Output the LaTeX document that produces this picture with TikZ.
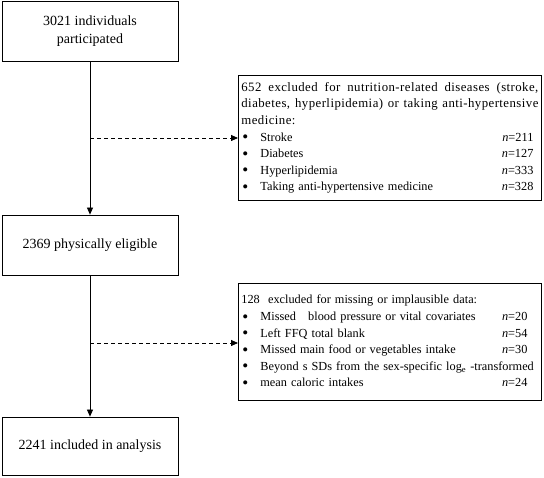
\documentclass[tikz,border=0pt]{standalone}
\usepackage{fontspec}
\setmainfont{Liberation Serif}
\usetikzlibrary{arrows.meta}
\newcommand\fline[1]{\hbox to \linewidth{\fontsize{12.8}{16.6}\selectfont\addfontfeature{LetterSpace=3.5}\spaceskip=0.25em plus 2em\relax #1}}
\newcommand\plainline[1]{\hbox to \linewidth{#1\hfil}}
\newcommand\bitem[1]{\hbox to \linewidth{\makebox[19pt][l]{\hspace{1pt}\raisebox{-1.6pt}{\fontsize{17}{16}\selectfont\textbullet}}#1}}
\begin{document}
\begin{tikzpicture}[x=1pt,y=-1pt,
  mainbox/.style={draw, line width=0.8pt, minimum width=176pt, align=center, font=\fontsize{14}{17.5}\selectfont, inner sep=0pt},
  sidebox/.style={draw, line width=0.8pt, anchor=north west, text width=297pt, inner xsep=3pt, inner ysep=0pt, align=left, font=\fontsize{12.3}{16.6}\selectfont},
  flow/.style={line width=0.8pt, -{Triangle[length=7pt,width=6pt]}},
  side/.style={line width=0.8pt, dashed, dash pattern=on 4pt off 3pt, -{Triangle[length=7pt,width=6pt]}}]
\useasboundingbox (0,0) rectangle (544,478);
\node[mainbox, minimum height=60pt] (a) at (90,31) {3021 individuals\\participated};
\node[mainbox, minimum height=60pt] (b) at (90,245) {2369 physically eligible};
\node[mainbox, minimum height=58pt] (c) at (90,446) {2241 included in analysis};
\node[sidebox, minimum height=125pt] (e1) at (238,75) {%
\fline{652 excluded for nutrition-related diseases (stroke,}
\fline{diabetes, hyperlipidemia) or taking anti-hypertensive}
\fline{medicine:\hfil}
\bitem{Stroke\hfill\textit{n}=211\hspace{5pt}}
\bitem{Diabetes\hfill\textit{n}=127\hspace{5pt}}
\bitem{Hyperlipidemia\hfill\textit{n}=333\hspace{5pt}}
\bitem{Taking anti-hypertensive medicine\hfill\textit{n}=328\hspace{5pt}}};
\node[sidebox, minimum height=117pt] (e2) at (238,283) {%
\plainline{128\ \ excluded for missing or implausible data:}
\bitem{Missed\ \ \ blood pressure or vital covariates\hfill\textit{n}=20\hspace{11pt}}
\bitem{Left FFQ total blank\hfill\textit{n}=54\hspace{11pt}}
\bitem{Missed main food or vegetables intake\hfill\textit{n}=30\hspace{11pt}}
\bitem{Beyond s SDs from the sex-specific log\textsubscript{e} -transformed\hss}
\bitem{mean caloric intakes\hfill\textit{n}=24\hspace{11pt}}};
\coordinate (j1) at (90,138);
\coordinate (j2) at (90,343);
\draw[flow] (a.south) -- (b.north);
\draw[flow] (b.south) -- (c.north);
\draw[side] (j1) -- (j1 -| e1.west);
\draw[side] (j2) -- (j2 -| e2.west);
\end{tikzpicture}
\end{document}
